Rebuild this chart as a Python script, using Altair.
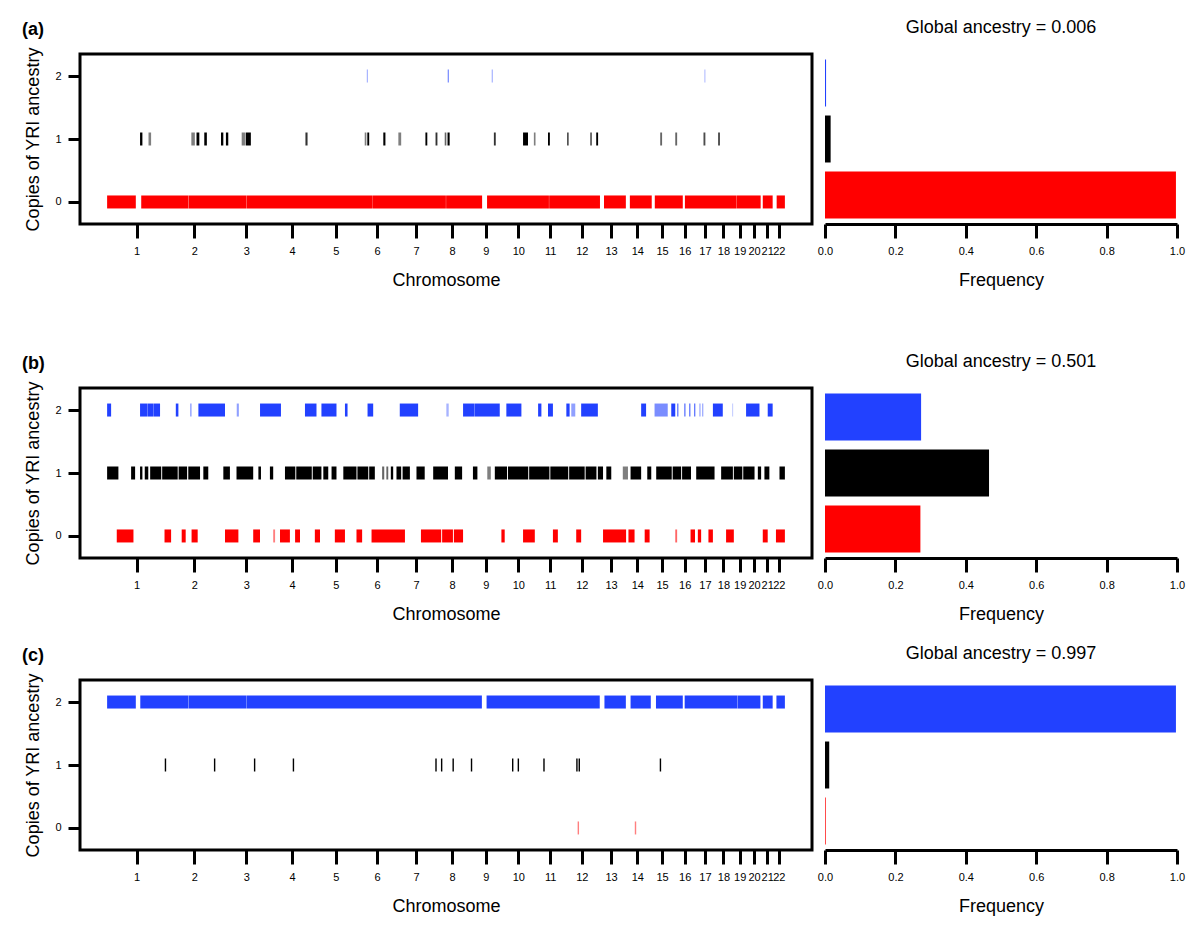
import altair as alt
import numpy as np
import pandas as pd

# ---------------- data ----------------
CHROM_LABELS = [str(i) for i in range(1, 23)]
CHROM_LENGTHS_MB = [249.3, 243.2, 198.0, 191.2, 180.9, 171.1, 159.1, 146.4, 141.2, 135.5, 135.0,
                    133.9, 115.2, 107.3, 102.5, 90.4, 81.2, 78.1, 59.1, 63.0, 48.1, 51.3]

COPIES = ["0", "1", "2"]
COPY_COLORS = ["#ff0000", "#000000", "#2241ff"]

PANEL_TAGS = ["(a)", "(b)", "(c)"]
GLOBAL_ANCESTRY = ["0.006", "0.501", "0.997"]

# frequency of 0 / 1 / 2 copies of YRI ancestry
FREQ_A = [0.997, 0.016, 0.003]
FREQ_B = [0.271, 0.466, 0.273]
FREQ_C = [0.002, 0.012, 0.997]

# ancestry segments: [start Mb, end Mb, (shade)] on the concatenated genome
A_COPY0 = [[0, 122], [145, 345], [346, 591], [592, 1126], [1127, 1440], [1441, 1594], [1615, 1878],
           [1879, 2095], [2112, 2205], [2222, 2315], [2328, 2447], [2456, 2676], [2677, 2778],
           [2787, 2829], [2846, 2881]]
A_COPY1 = [[140, 150, 1], [176, 187, 0.5], [358, 373, 0.5], [380, 392, 1], [413, 424, 1], [484, 494, 1],
           [505, 515, 1], [572, 586, 0.5], [589, 611, 1], [843, 852, 0.8], [1095, 1102, 0.5],
           [1106, 1114, 1], [1174, 1183, 1], [1238, 1250, 0.5], [1353, 1361, 1], [1396, 1404, 0.8],
           [1435, 1442, 0.6], [1447, 1456, 1], [1644, 1652, 0.8], [1768, 1789, 1], [1814, 1821, 0.5],
           [1874, 1882, 1], [1955, 1962, 0.7], [2053, 2061, 0.6], [2079, 2087, 1], [2351, 2359, 0.6],
           [2415, 2423, 0.6], [2535, 2543, 0.7], [2597, 2605, 0.7]]
A_COPY2 = [[1104, 1108, 0.5], [1448, 1452, 0.8], [1635, 1639, 0.5], [2539, 2543, 0.4]]

B_COPY0 = [[41, 112], [244, 272], [317, 334], [359, 385], [501, 558], [621, 650], [706, 714, 0.5],
           [735, 777], [799, 820], [883, 905], [968, 1011], [1060, 1084], [1124, 1266], [1334, 1420],
           [1424, 1470], [1474, 1513], [1676, 1690], [1768, 1818], [1895, 1916], [1994, 2015],
           [2108, 2206], [2216, 2242], [2285, 2306], [2415, 2423, 0.6], [2480, 2499], [2511, 2525],
           [2556, 2575], [2631, 2664], [2787, 2808], [2843, 2881]]
B_COPY1 = [[0, 48], [102, 119], [140, 150], [160, 175], [183, 230], [234, 300], [304, 340], [345, 395],
           [409, 430], [494, 522], [550, 621], [643, 654], [692, 706], [756, 800], [804, 870], [874, 911],
           [919, 940], [954, 975], [1004, 1060], [1064, 1110], [1114, 1138], [1169, 1178, 0.6],
           [1187, 1195, 0.6], [1206, 1216], [1230, 1250], [1256, 1287], [1315, 1350], [1386, 1449],
           [1478, 1509], [1555, 1574], [1616, 1631, 0.5], [1648, 1700], [1704, 1790], [1794, 1880],
           [1884, 1960], [1964, 2030], [2034, 2080], [2086, 2108], [2122, 2143], [2192, 2214, 0.5],
           [2225, 2270], [2296, 2313], [2334, 2400], [2404, 2440], [2444, 2482], [2504, 2582],
           [2610, 2660], [2664, 2700], [2704, 2752], [2766, 2780], [2794, 2815], [2858, 2881]]
B_COPY2 = [[0, 17], [140, 170], [171, 198], [199, 225], [292, 303], [353, 359, 0.5], [388, 501],
           [551, 560, 0.5], [650, 739], [841, 890], [911, 975], [1011, 1022], [1107, 1131], [1244, 1322],
           [1442, 1452, 0.4], [1513, 1560], [1561, 1669], [1697, 1761], [1832, 1846], [1874, 1895],
           [1952, 1966], [1973, 1990, 0.5], [2015, 2086], [2270, 2291], [2327, 2383, 0.6], [2398, 2415],
           [2424, 2428], [2454, 2458], [2475, 2479], [2496, 2500], [2518, 2522, 0.6], [2530, 2534, 0.6],
           [2575, 2617], [2657, 2661, 0.3], [2716, 2773], [2808, 2829]]

C_COPY0 = [[2000, 2006, 0.5], [2243, 2249, 0.5]]
C_COPY1 = [[245, 251], [454, 460], [624, 630], [789, 795], [1395, 1401], [1419, 1425], [1468, 1474],
           [1546, 1552], [1721, 1727], [1745, 1751], [1854, 1860], [1994, 2000], [2004, 2010], [2349, 2355]]
C_COPY2 = [[0, 122], [141, 345], [346, 591], [592, 1593], [1613, 2094], [2114, 2205], [2225, 2311],
           [2333, 2447], [2455, 2679], [2680, 2777], [2787, 2829], [2845, 2881]]

SEGMENTS = [[A_COPY0, A_COPY1, A_COPY2], [B_COPY0, B_COPY1, B_COPY2], [C_COPY0, C_COPY1, C_COPY2]]
FREQS = [FREQ_A, FREQ_B, FREQ_C]

# ---------------- helpers ----------------
FONT = "Liberation Sans"
chrom_starts = np.concatenate([[0.0], np.cumsum(CHROM_LENGTHS_MB)[:-1]])
CHROM_CENTERS = [int(round(s + l / 2)) for s, l in zip(chrom_starts, CHROM_LENGTHS_MB)]
label_expr = "'' + (indexof([" + ",".join(str(c) for c in CHROM_CENTERS) + "], datum.value) + 1)"
genome_len = float(np.sum(CHROM_LENGTHS_MB))
x_pad = genome_len * 0.04


def seg_frame(segs_by_copy):
    rows = []
    for copy, segs in zip(COPIES, segs_by_copy):
        for s in segs:
            shade = s[2] if len(s) > 2 else 1.0
            rows.append({"start": s[0], "end": s[1], "copies": int(copy), "copy_label": copy,
                         "shade": shade})
    return pd.DataFrame(rows)


def freq_frame(freqs):
    return pd.DataFrame({"copy_label": COPIES, "freq": freqs})


color_enc = alt.Color("copy_label:N", scale=alt.Scale(domain=COPIES, range=COPY_COLORS), legend=None)


def left_chart(i):
    df = seg_frame(SEGMENTS[i])
    return alt.Chart(df).mark_rule(strokeWidth=13, strokeCap="butt").encode(
        x=alt.X("start:Q",
                scale=alt.Scale(domain=[-x_pad, genome_len + x_pad], nice=False, zero=False),
                axis=alt.Axis(values=CHROM_CENTERS, labelExpr=label_expr, domain=False, grid=False,
                              tickSize=14, tickWidth=3, tickColor="black", labelFontSize=11,
                              labelColor="black", labelPadding=7, labelOverlap=False, labelFlush=False,
                              titleFontSize=18, titleFontWeight="normal", titlePadding=15,
                              labelFont=FONT, titleFont=FONT),
                title="Chromosome"),
        x2="end:Q",
        y=alt.Y("copies:Q",
                scale=alt.Scale(domain=[-0.35, 2.35], nice=False, zero=False),
                axis=alt.Axis(values=[0, 1, 2], format="d", domain=False, grid=False,
                              tickSize=12, tickWidth=3, tickColor="black", labelFontSize=11,
                              labelColor="black", labelPadding=7, titleFontSize=18,
                              titleFontWeight="normal", titlePadding=12, labelFont=FONT,
                              titleFont=FONT),
                title="Copies of YRI ancestry"),
        color=color_enc,
        opacity=alt.Opacity("shade:Q", scale=None, legend=None),
    ).properties(
        width=732, height=170,
        view=alt.ViewBackground(stroke="black", strokeWidth=3),
        title=alt.TitleParams(PANEL_TAGS[i], anchor="start", frame="bounds", fontSize=18,
                              fontWeight="bold", font=FONT, offset=8, dx=-3),
    )


def right_chart(i):
    df = freq_frame(FREQS[i])
    return alt.Chart(df).mark_bar().encode(
        x=alt.X("freq:Q", scale=alt.Scale(domain=[0, 1], nice=False),
                axis=alt.Axis(values=[0, 0.2, 0.4, 0.6, 0.8, 1.0], format=".1f", domain=True,
                              domainWidth=3, domainColor="black", grid=False, tickSize=14,
                              tickWidth=3, tickColor="black", labelFontSize=11, labelColor="black",
                              labelPadding=7, labelFlush=False, titleFontSize=18,
                              titleFontWeight="normal", titlePadding=15, labelFont=FONT,
                              titleFont=FONT),
                title="Frequency"),
        y=alt.Y("copy_label:N", sort=["2", "1", "0"], axis=None,
                scale=alt.Scale(paddingInner=0.16, paddingOuter=0.1)),
        color=color_enc,
    ).properties(
        width=352, height=170,
        title=alt.TitleParams("Global ancestry = " + GLOBAL_ANCESTRY[i], anchor="middle", fontSize=18,
                              fontWeight="normal", font=FONT, offset=8, dy=-9),
    )


rows = [alt.hconcat(left_chart(i), right_chart(i), spacing=3) for i in range(3)]

chart = alt.vconcat(
    alt.vconcat(rows[0], rows[1], spacing=62),
    rows[2], spacing=20,
).properties(
    padding={"left": 12, "top": 11, "right": 4, "bottom": 4}
).configure_view(stroke=None).configure_title(color="black")

chart.save("out.html", embed_options={"renderer": "svg", "actions": False})
